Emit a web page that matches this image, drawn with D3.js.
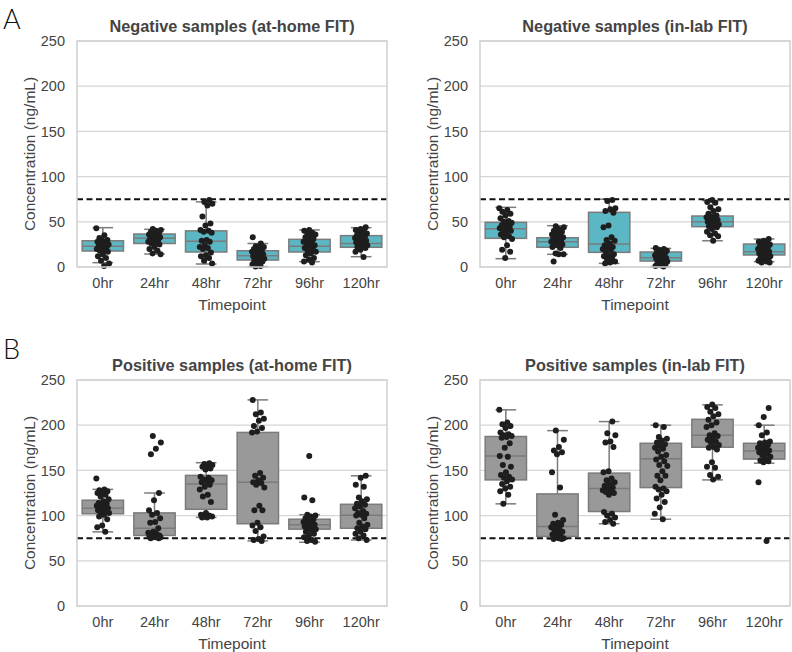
<!DOCTYPE html>
<html>
<head>
<meta charset="utf-8">
<script src="https://cdn.jsdelivr.net/npm/d3@7"></script>
<style>
  html, body { margin: 0; padding: 0; background: #fff; }
  svg { display: block; }
  text { font-family: "Liberation Sans", Arial, Helvetica, sans-serif; }
</style>
</head>
<body>
<svg id="chart" width="792" height="652"></svg>
<script>
// ---------------- DATA ----------------
const categories = ["0hr", "24hr", "48hr", "72hr", "96hr", "120hr"];
const yTicks = [0, 50, 100, 150, 200, 250];
const threshold = 75;

// Negative samples (at-home FIT)
const negHomePoints = [
  [43, 35, 32, 30, 29, 28, 27, 26, 25, 24, 23, 22, 21, 20, 19, 18, 17, 14, 12, 10, 7, 4, 1],
  [42, 41, 40, 39, 38, 37, 36, 35, 34, 33, 32, 31, 30, 29, 28, 27, 26, 25, 22, 20, 18, 15, 14],
  [74, 72, 70, 68, 56, 48, 46, 41, 40, 39, 38, 30, 29, 28, 24, 22, 21, 20, 16, 13, 12, 10, 7, 4],
  [33, 26, 23, 22, 21, 20, 19, 18, 17, 16, 15, 14, 13, 12, 11, 10, 9, 8, 7, 6, 5, 3, 1, 0.5],
  [41, 40, 38, 37, 36, 35, 33, 31, 30, 28, 27, 25, 24, 23, 21, 20, 18, 17, 15, 13, 10, 8, 6, 5],
  [44, 42, 41, 40, 38, 37, 36, 35, 34, 33, 32, 31, 30, 29, 28, 27, 26, 25, 24, 23, 22, 21, 19, 17, 11]
];
// [whisker low, q1, median, q3, whisker high]
const negHomeBoxes = [
  [4.8, 17.7, 23, 29, 43.5],
  [14.4, 26, 31.7, 36.5, 41.7],
  [3.3, 16.6, 28.4, 40, 72],
  [0.4, 7.7, 12.5, 18, 26],
  [5.9, 16.6, 23, 30.6, 41],
  [11.4, 21.8, 26, 34.7, 43.5]
];

// Negative samples (in-lab FIT)
const negLabPoints = [
  [65, 63, 61, 59, 57, 54, 51, 50, 49, 48, 46, 45, 44, 43, 42, 41, 40, 38, 36, 34, 33, 31, 24, 19, 17, 10],
  [45, 44, 42, 40, 39, 37, 36, 35, 34, 33, 32, 31, 30, 29, 28, 27, 26, 25, 24, 22, 21, 15, 14, 14, 6],
  [74, 73, 65, 64, 62, 60, 46, 44, 33, 30, 29, 26, 24, 22, 21, 20, 19, 17, 14, 13, 12, 10, 8, 6, 5, 4],
  [21, 20, 19, 18, 17, 16, 15, 14, 13, 12, 11, 10, 10, 9, 8, 7, 6, 5, 4, 3, 2, 1, 0.5],
  [74, 72, 71, 66, 64, 62, 59, 57, 56, 55, 54, 53, 52, 51, 50, 49, 48, 47, 46, 45, 44, 42, 39, 37, 35, 34, 29],
  [31, 29, 28, 27, 26, 25, 24, 23, 22, 21, 20, 19, 18, 17, 16, 15, 14, 13, 12, 11, 10, 9, 8, 7, 6, 5, 5]
];
const negLabBoxes = [
  [9.2, 31.7, 42.4, 49.4, 66],
  [14, 21.8, 28, 32.4, 45.7],
  [4, 16.2, 25.4, 60.5, 75],
  [0.4, 6.6, 10.3, 16.6, 20.6],
  [29, 44.6, 50, 56.4, 73.4],
  [5.9, 13.3, 17, 25.4, 31]
];

// Positive samples (at-home FIT)
const posHomePoints = [
  [141, 129, 128, 127, 126, 125, 123, 121, 118, 116, 114, 113, 112, 111, 110, 109, 108, 107, 106, 105, 104, 103, 101, 99, 96, 89, 87, 82],
  [188, 181, 174, 168, 125, 117, 106, 103, 101, 97, 93, 92, 86, 82, 81, 80, 79, 78, 78, 77, 77, 76, 76, 76, 75, 75],
  [158, 157, 156, 155, 154, 152, 151, 143, 142, 140, 139, 138, 137, 134, 132, 129, 123, 121, 115, 103, 101, 100, 99, 99, 98, 98],
  [228, 214, 212, 207, 205, 199, 197, 193, 192, 147, 144, 142, 139, 137, 136, 134, 131, 111, 106, 106, 92, 89, 87, 83, 77, 74, 73, 72],
  [166, 120, 117, 101, 100, 99, 97, 96, 95, 93, 92, 91, 90, 89, 88, 87, 86, 85, 84, 82, 80, 78, 76, 73, 72, 71],
  [144, 142, 134, 132, 120, 118, 116, 113, 112, 110, 108, 105, 103, 102, 101, 100, 97, 92, 90, 88, 86, 85, 82, 80, 78, 75, 73]
];
const posHomeBoxes = [
  [82, 102, 108, 117, 129],
  [75, 78, 86, 103, 125],
  [98, 107, 135, 144.5, 158.5],
  [72, 91, 137, 192, 228],
  [70.5, 85, 90, 96, 101],
  [73, 86, 100.5, 112.5, 144]
];

// Positive samples (in-lab FIT)
const posLabPoints = [
  [217, 203, 201, 199, 197, 192, 190, 189, 188, 187, 186, 180, 175, 166, 165, 156, 154, 148, 145, 143, 142, 140, 138, 135, 132, 130, 127, 123, 113],
  [194, 184, 176, 172, 170, 168, 148, 131, 101, 95, 92, 91, 90, 88, 87, 85, 84, 82, 80, 79, 77, 76, 75, 75, 74, 74],
  [204, 191, 189, 182, 181, 176, 149, 148, 141, 139, 137, 135, 133, 131, 130, 128, 127, 126, 125, 123, 104, 102, 100, 98, 95, 93, 91],
  [200, 198, 187, 185, 183, 181, 179, 177, 175, 174, 171, 167, 165, 162, 160, 156, 155, 149, 144, 144, 139, 132, 130, 129, 127, 123, 119, 115, 109, 102, 96],
  [223, 220, 219, 215, 212, 210, 206, 203, 200, 198, 191, 189, 188, 186, 184, 182, 181, 178, 176, 175, 173, 159, 154, 153, 145, 143, 140],
  [219, 209, 200, 192, 189, 182, 181, 180, 178, 176, 175, 174, 173, 172, 171, 170, 169, 167, 165, 163, 161, 160, 159, 137, 72]
];
const posLabBoxes = [
  [113, 139.5, 166, 187.5, 217],
  [74, 77, 88, 124, 194],
  [91, 104.5, 130, 147, 204],
  [96, 131, 163, 180, 200],
  [139.5, 175.6, 189, 206.5, 222.5],
  [158, 162.5, 171.5, 180, 200]
];

const panelTitles = [
  "Negative samples (at-home FIT)",
  "Negative samples (in-lab FIT)",
  "Positive samples (at-home FIT)",
  "Positive samples (in-lab FIT)"
];
const panelLetters = ["A", "B"];

// ---------------- DRAWING ----------------
const svg = d3.select("#chart");
const W = 310, H = 226;
const layout = [
  { x: 77, y: 41, pts: negHomePoints, box: negHomeBoxes, fill: "#5ab7c3", title: panelTitles[0] },
  { x: 480, y: 41, pts: negLabPoints, box: negLabBoxes, fill: "#5ab7c3", title: panelTitles[1] },
  { x: 77, y: 380, pts: posHomePoints, box: posHomeBoxes, fill: "#999999", title: panelTitles[2] },
  { x: 480, y: 380, pts: posLabPoints, box: posLabBoxes, fill: "#999999", title: panelTitles[3] }
];

const textColor = "#444";
const gridColor = "#d6d6d6";
const edgeColor = "#7b7b7b";
const FONT = '"Liberation Sans", Arial, sans-serif';

layout.forEach(p => {
  const g = svg.append("g").attr("transform", `translate(${p.x},${p.y})`);
  const x = d3.scaleBand().domain(categories).range([0, W]).paddingInner(0).paddingOuter(0);
  const y = d3.scaleLinear().domain([0, 250]).range([H, 0]);

  // grid
  g.append("g").selectAll("line").data(yTicks).join("line")
    .attr("x1", 0).attr("x2", W)
    .attr("y1", d => y(d)).attr("y2", d => y(d))
    .attr("stroke", gridColor).attr("stroke-width", 1.2);

  // y axis labels
  const yAxis = d3.axisLeft(y).tickValues(yTicks).tickSize(0).tickPadding(12);
  const ya = g.append("g").call(yAxis);
  ya.select(".domain").remove();
  ya.selectAll("text").attr("fill", textColor).style("font-size", "14.5px").style("font-family", FONT);

  // x axis labels
  const xAxis = d3.axisBottom(x).tickSize(0).tickPadding(11);
  const xa = g.append("g").attr("transform", `translate(0,${H})`).call(xAxis);
  xa.select(".domain").remove();
  xa.selectAll("text").attr("fill", textColor).style("font-size", "14.5px").style("font-family", FONT);

  const bw = x.bandwidth() * 0.8;
  // boxes
  categories.forEach((c, i) => {
    const [lo, q1, md, q3, hi] = p.box[i];
    const cx = x(c) + x.bandwidth() / 2;
    const bg = g.append("g");
    bg.append("line").attr("x1", cx).attr("x2", cx).attr("y1", y(q3)).attr("y2", y(hi))
      .attr("stroke", edgeColor).attr("stroke-width", 1.5);
    bg.append("line").attr("x1", cx).attr("x2", cx).attr("y1", y(q1)).attr("y2", y(lo))
      .attr("stroke", edgeColor).attr("stroke-width", 1.5);
    bg.append("line").attr("x1", cx - bw / 4).attr("x2", cx + bw / 4).attr("y1", y(hi)).attr("y2", y(hi))
      .attr("stroke", edgeColor).attr("stroke-width", 1.5);
    bg.append("line").attr("x1", cx - bw / 4).attr("x2", cx + bw / 4).attr("y1", y(lo)).attr("y2", y(lo))
      .attr("stroke", edgeColor).attr("stroke-width", 1.5);
    bg.append("rect").attr("x", cx - bw / 2).attr("width", bw)
      .attr("y", y(q3)).attr("height", y(q1) - y(q3))
      .attr("fill", p.fill).attr("stroke", edgeColor).attr("stroke-width", 1.5);
    bg.append("line").attr("x1", cx - bw / 2).attr("x2", cx + bw / 2).attr("y1", y(md)).attr("y2", y(md))
      .attr("stroke", edgeColor).attr("stroke-width", 1.5);
  });

  // threshold line
  g.append("line").attr("x1", 0).attr("x2", W).attr("y1", y(threshold)).attr("y2", y(threshold))
    .attr("stroke", "#111").attr("stroke-width", 2).attr("stroke-dasharray", "6,3.5");

  // points (deterministic jitter)
  categories.forEach((c, i) => {
    const cx = x(c) + x.bandwidth() / 2;
    g.append("g").selectAll("circle").data(p.pts[i]).join("circle")
      .attr("cx", (d, k) => cx + (((k * 0.6180339 + i * 0.37) % 1) - 0.5) * 13)
      .attr("cy", d => y(d))
      .attr("r", 3)
      .attr("fill", "#1e1e1e");
  });

  // border
  g.append("rect").attr("x", 0).attr("y", 0).attr("width", W).attr("height", H)
    .attr("fill", "none").attr("stroke", "#d0d0d0").attr("stroke-width", 1.5);

  // title
  g.append("text").attr("x", W / 2).attr("y", -15).attr("text-anchor", "middle")
    .attr("dominant-baseline", "central")
    .style("font-size", "16.3px").style("font-weight", "bold").attr("fill", textColor)
    .text(p.title);

  // y label
  g.append("text").attr("transform", `translate(-48,${H / 2}) rotate(-90)`)
    .attr("text-anchor", "middle").attr("dominant-baseline", "central")
    .style("font-size", "15.5px").attr("fill", textColor)
    .text("Concentration (ng/mL)");

  // x label
  g.append("text").attr("x", W / 2).attr("y", H + 37).attr("text-anchor", "middle")
    .attr("dominant-baseline", "central")
    .style("font-size", "15.5px").attr("fill", textColor)
    .text("Timepoint");
});

// panel letters
svg.append("text").attr("x", 3).attr("y", 29).text(panelLetters[0])
  .style("font-family", 'Lato, "Open Sans", sans-serif').style("font-size", "27px").style("font-weight", "300")
  .attr("fill", "#111");
svg.append("text").attr("x", 3).attr("y", 359).text(panelLetters[1])
  .style("font-family", 'Lato, "Open Sans", sans-serif').style("font-size", "27px").style("font-weight", "300")
  .attr("fill", "#111");
</script>
</body>
</html>
